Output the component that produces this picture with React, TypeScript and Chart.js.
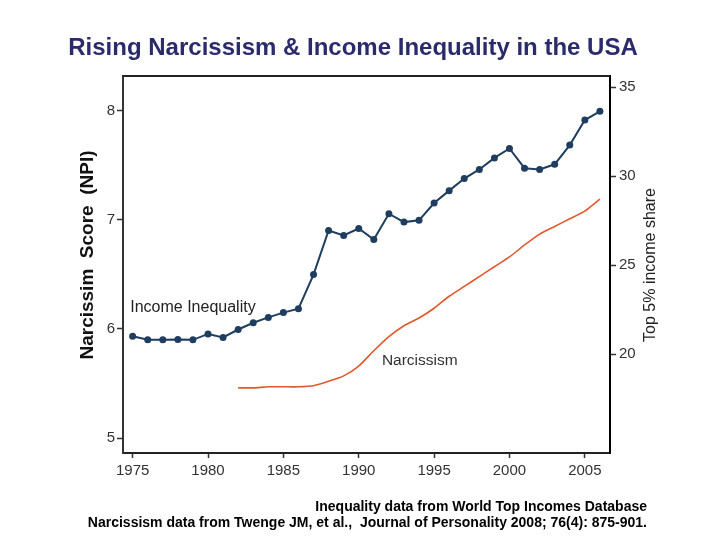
import { useEffect, useRef } from 'react'
import { Chart, registerables } from 'chart.js'

Chart.register(...registerables)

// Top 5% income share (right axis), 1975-2006
const shareYears = [
  1975, 1976, 1977, 1978, 1979, 1980, 1981, 1982, 1983, 1984, 1985, 1986, 1987, 1988, 1989, 1990,
  1991, 1992, 1993, 1994, 1995, 1996, 1997, 1998, 1999, 2000, 2001, 2002, 2003, 2004, 2005, 2006,
]
const topShare = [
  21.0, 20.8, 20.8, 20.82, 20.8, 21.13, 20.93, 21.38, 21.76, 22.06, 22.33, 22.55, 24.47, 26.95, 26.67, 27.06,
  26.44, 27.89, 27.42, 27.52, 28.49, 29.19, 29.87, 30.38, 31.03, 31.56, 30.45, 30.38, 30.67, 31.75, 33.16, 33.65,
]

// Narcissism score (left axis), 1982-2006
const narcYears = [
  1982, 1983, 1984, 1985, 1986, 1987, 1988, 1989, 1990, 1991, 1992, 1993, 1994,
  1995, 1996, 1997, 1998, 1999, 2000, 2001, 2002, 2003, 2004, 2005, 2006,
]
const narcissism = [
  5.46, 5.46, 5.47, 5.47, 5.47, 5.48, 5.52, 5.57, 5.66, 5.8, 5.93, 6.03, 6.1,
  6.19, 6.3, 6.39, 6.48, 6.57, 6.66, 6.77, 6.87, 6.94, 7.01, 7.08, 7.19,
]

const xTicks = [1975, 1980, 1985, 1990, 1995, 2000, 2005]
const leftTicks = [5, 6, 7, 8]
const rightTicks = [20, 25, 30, 35]

const FONT = "'Liberation Sans', Arial, sans-serif"

const textPlugin = {
  id: 'slideText',
  afterDraw(chart: Chart) {
    const ctx = chart.ctx
    const area = chart.chartArea
    const x = chart.scales.x
    const yl = chart.scales.y
    ctx.save()

    // top edge of the frame
    ctx.strokeStyle = '#222'
    ctx.lineWidth = 2
    ctx.beginPath()
    ctx.moveTo(area.left, area.top)
    ctx.lineTo(area.right, area.top)
    ctx.stroke()

    // title
    ctx.fillStyle = '#2b2b6b'
    ctx.font = `bold 24px ${FONT}`
    ctx.textAlign = 'center'
    ctx.textBaseline = 'middle'
    ctx.fillText('Rising Narcissism & Income Inequality in the USA', 353, 48)

    // left axis title
    ctx.save()
    ctx.translate(88, 255)
    ctx.rotate(-Math.PI / 2)
    ctx.fillStyle = '#111'
    ctx.font = `bold 19px ${FONT}`
    ctx.fillText('Narcissim  Score  (NPI)', 0, 0)
    ctx.restore()

    // right axis title
    ctx.save()
    ctx.translate(651, 265)
    ctx.rotate(-Math.PI / 2)
    ctx.fillStyle = '#222'
    ctx.font = `16px ${FONT}`
    ctx.fillText('Top 5% income share', 0, 0)
    ctx.restore()

    // inline series labels
    ctx.fillStyle = '#222'
    ctx.font = `16px ${FONT}`
    ctx.fillText('Income Inequality', x.getPixelForValue(1979.0), yl.getPixelForValue(6.2))
    ctx.fillStyle = '#333'
    ctx.font = `15.5px ${FONT}`
    ctx.fillText('Narcissism', x.getPixelForValue(1994.05), yl.getPixelForValue(5.71))

    // source notes
    ctx.fillStyle = '#000'
    ctx.font = `bold 14px ${FONT}`
    ctx.textAlign = 'right'
    ctx.fillText('Inequality data from World Top Incomes Database', 647, 507)
    ctx.fillText('Narcissism data from Twenge JM, et al.,  Journal of Personality 2008; 76(4): 875-901.', 647, 523)

    ctx.restore()
  },
}

export default function App() {
  const chartRef = useRef<HTMLCanvasElement>(null)
  const chartInstance = useRef<Chart | null>(null)

  useEffect(() => {
    if (!chartRef.current) return
    if (chartInstance.current) chartInstance.current.destroy()
    const ctx = chartRef.current.getContext('2d')
    if (!ctx) return

    const tickFont = { family: FONT, size: 15 }

    chartInstance.current = new Chart(ctx, {
      type: 'line',
      data: {
        datasets: [
          {
            label: 'Income Inequality',
            data: shareYears.map((yr, i) => ({ x: yr, y: topShare[i] })),
            yAxisID: 'y1',
            borderColor: '#1f3d5e',
            backgroundColor: '#1f3d5e',
            borderWidth: 2,
            pointRadius: 3.5,
            pointBorderWidth: 0,
            tension: 0,
          },
          {
            label: 'Narcissism',
            data: narcYears.map((yr, i) => ({ x: yr, y: narcissism[i] })),
            yAxisID: 'y',
            borderColor: '#e0592a',
            backgroundColor: '#e0592a',
            borderWidth: 1.6,
            pointRadius: 0,
            tension: 0.2,
          },
        ],
      },
      options: {
        responsive: true,
        maintainAspectRatio: false,
        animation: false,
        layout: { padding: { left: 83, right: 50, top: 76, bottom: 57 } },
        plugins: {
          legend: { display: false },
          title: { display: false },
          tooltip: { enabled: false },
        },
        scales: {
          x: {
            type: 'linear',
            min: 1974.36,
            max: 2006.67,
            afterBuildTicks: (scale: any) => {
              scale.ticks = xTicks.map((v) => ({ value: v }))
            },
            afterFit: (scale: any) => {
              scale.height = 30
            },
            grid: { drawOnChartArea: false, tickLength: 5, color: '#333', tickWidth: 1.5 },
            border: { display: true, color: '#222', width: 2 },
            ticks: { font: tickFont, color: '#333', padding: 4, maxRotation: 0, callback: (v: any) => String(v) },
          },
          y: {
            position: 'left',
            min: 4.863,
            max: 8.319,
            afterBuildTicks: (scale: any) => {
              scale.ticks = leftTicks.map((v) => ({ value: v }))
            },
            afterFit: (scale: any) => {
              scale.width = 40
            },
            grid: { drawOnChartArea: false, tickLength: 6, color: '#333', tickWidth: 1.5 },
            border: { display: true, color: '#333', width: 2 },
            ticks: { font: tickFont, color: '#333', padding: 2 },
          },
          y1: {
            position: 'right',
            min: 14.434,
            max: 35.637,
            afterBuildTicks: (scale: any) => {
              scale.ticks = rightTicks.map((v) => ({ value: v }))
            },
            afterFit: (scale: any) => {
              scale.width = 60
            },
            grid: { drawOnChartArea: false, tickLength: 6, color: '#333', tickWidth: 1.5 },
            border: { display: true, color: '#000', width: 2 },
            ticks: { font: tickFont, color: '#333', padding: 3 },
          },
        },
      },
      plugins: [textPlugin],
    })

    return () => {
      if (chartInstance.current) {
        chartInstance.current.destroy()
        chartInstance.current = null
      }
    }
  }, [])

  return (
    <div style={{ position: 'absolute', left: 0, top: 0, width: 720, height: 540, background: '#fff' }}>
      <canvas ref={chartRef} />
    </div>
  )
}
